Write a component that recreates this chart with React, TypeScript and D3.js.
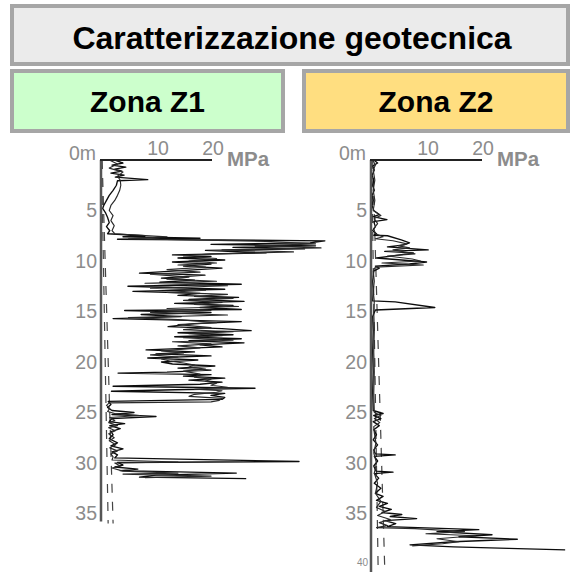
import React from 'react';
import * as d3 from 'd3';

// ---------- data ----------
const titleText = 'Caratterizzazione geotecnica';
const zoneNames = ['Zona Z1', 'Zona Z2'];
const zoneColors = ['#ccffcc', '#ffde80'];
const mpaTicks = [10, 20];
const depthTicksZ1 = [5, 10, 15, 20, 25, 30, 35];
const depthTicksZ2 = [5, 10, 15, 20, 25, 30, 35];

// [depth m, qc MPa]
const z1TraceA: [number, number][] = [
  [0, 2.5], [0.3, 4.0], [0.5, 2.0], [0.7, 4.5], [0.9, 2.5], [1.1, 3.8], [1.3, 1.8], [1.5, 4.2], [1.7, 2.6],
  [1.95, 8.5], [2.05, 3.0], [2.5, 2.8], [3.0, 2.2], [3.5, 1.5], [4.0, 1.0], [4.5, 0.5], [4.8, 0.3], [5.2, 0.8],
  [5.7, 1.2], [6.2, 1.5], [6.6, 1.0], [7.0, 1.6], [7.3, 1.2], [7.5, 8.0], [7.6, 4.0], [7.75, 18], [7.85, 3],
  [8.0, 40.7], [8.2, 38], [8.35, 20], [8.5, 39], [8.65, 24], [8.8, 37], [8.95, 19], [9.2, 30], [9.4, 13],
  [9.55, 20], [9.7, 14], [9.9, 22.5], [10.1, 13], [10.3, 20], [10.5, 15], [10.7, 22], [10.9, 16], [11.2, 7.0],
  [11.4, 18.9], [11.7, 11], [11.9, 17], [12.1, 10.7], [12.3, 25.5], [12.5, 4.9], [12.8, 22.5], [13.0, 5.8],
  [13.2, 18], [13.4, 14], [13.6, 25], [13.8, 16], [14.0, 26], [14.2, 13.4], [14.4, 24], [14.6, 18], [14.8, 25.5],
  [14.9, 4.3], [15.1, 20], [15.3, 7.3], [15.5, 14.6], [15.7, 2.2], [15.9, 18], [16.0, 25.5], [16.2, 17],
  [16.5, 12.2], [16.7, 22], [16.9, 27.3], [17.1, 14], [17.3, 24], [17.5, 13.4], [17.7, 25.5], [17.9, 16],
  [18.1, 26], [18.3, 18], [18.5, 22], [18.8, 8.2], [19.0, 17], [19.2, 10], [19.4, 20], [19.6, 8.5], [19.8, 17.6],
  [20.0, 11], [20.2, 13], [20.4, 20.7], [20.6, 14], [20.8, 20], [21.0, 12], [21.1, 3.1], [21.25, 20], [21.4, 15],
  [21.6, 22.5], [21.8, 16], [22.0, 22], [22.2, 18], [22.4, 2.2], [22.6, 28], [22.75, 13.4], [22.9, 1.9],
  [23.1, 22.5], [23.3, 20], [23.5, 22.5], [23.7, 22], [23.9, 1.3], [24.2, 1.8], [24.5, 1.2], [24.8, 2.0],
  [25.0, 6], [25.2, 2.0], [25.4, 10], [25.6, 2.0], [25.9, 1.5], [26.1, 4.3], [26.3, 1.6], [26.6, 3.5], [26.9, 1.8],
  [27.2, 2.2], [27.6, 1.5], [28.0, 3.0], [28.3, 1.8], [28.6, 4.0], [28.9, 2.0], [29.2, 3.0], [29.5, 2.5],
  [29.85, 36], [29.95, 3.0], [30.2, 4.0], [30.4, 2.5], [30.6, 6.7], [30.75, 3.5], [31.0, 24.6], [31.2, 10],
  [31.4, 7], [31.55, 26.4],
];

const z1TraceB: [number, number][] = [
  [0, 1.5], [0.4, 3.0], [0.8, 1.5], [1.2, 4.0], [1.6, 3.0], [2.0, 3.5], [2.5, 3.6], [3.0, 3.4], [3.5, 3.0],
  [4.0, 2.5], [4.5, 1.8], [5.0, 1.5], [5.5, 2.2], [6.0, 1.8], [6.5, 2.4], [7.0, 2.0], [7.3, 2.5], [7.6, 12],
  [7.8, 5], [8.05, 30], [8.3, 39], [8.5, 28], [8.7, 40], [8.9, 22], [9.1, 35], [9.3, 20], [9.5, 15], [9.75, 21],
  [10.0, 16], [10.2, 21], [10.4, 14], [10.6, 19], [10.85, 12], [11.1, 18], [11.3, 9], [11.6, 16], [11.8, 12],
  [12.0, 21], [12.2, 8], [12.45, 23], [12.7, 9], [12.9, 19], [13.1, 12], [13.3, 23], [13.5, 17], [13.7, 24],
  [13.9, 15], [14.1, 22], [14.3, 17], [14.5, 25], [14.7, 12], [14.9, 20], [15.1, 9], [15.35, 23], [15.6, 5],
  [15.8, 14], [16.1, 21], [16.3, 14], [16.6, 20], [16.8, 15], [17.0, 24], [17.2, 16], [17.4, 22], [17.6, 15],
  [17.85, 24], [18.0, 13], [18.2, 20], [18.4, 14], [18.6, 18], [18.9, 11], [19.1, 15], [19.3, 9], [19.5, 14],
  [19.7, 11], [19.9, 12.5], [20.1, 15], [20.3, 17], [20.5, 16], [20.7, 19], [20.9, 15], [21.2, 18], [21.5, 17],
  [21.7, 20], [21.9, 19], [22.1, 21], [22.3, 20], [22.5, 23], [22.7, 17], [22.85, 22], [23.0, 21], [23.2, 17],
  [23.4, 16], [23.6, 22], [23.8, 21.5], [23.95, 20], [24.05, 1.5], [24.3, 1.0], [24.6, 1.6], [24.9, 1.2],
  [25.1, 2.5], [25.3, 7], [25.5, 1.6], [25.8, 2.5], [26.0, 1.4], [26.3, 3.0], [26.5, 1.4], [26.8, 2.6],
  [27.1, 1.4], [27.5, 2.4], [27.8, 1.5], [28.2, 2.7], [28.5, 1.6], [28.8, 3.0], [29.1, 1.8], [29.4, 2.2],
  [29.7, 2.0], [29.9, 14], [30.0, 2.5], [30.3, 3.5], [30.5, 2.0], [30.8, 4.0], [31.0, 14], [31.1, 4.0],
  [31.3, 20], [31.45, 8],
];

const z2TraceA: [number, number][] = [
  [0, 0.5], [0.3, 1.2], [0.6, 0.3], [1.0, 0.6], [1.5, 0.2], [2.0, 0.5], [2.5, 0.3], [3.0, 0.6], [3.5, 0.2],
  [4.0, 0.4], [4.5, 0.2], [5.0, 0.5], [5.4, 1.5], [5.6, 0.4], [5.9, 2.9], [6.1, 0.5], [6.6, 0.8], [7.0, 0.3],
  [7.3, 1.0], [7.45, 0.5], [7.5, 3.0], [7.9, 5.5], [8.2, 7.0], [8.4, 6.0], [8.6, 3.0], [8.9, 10.4], [9.05, 2.5],
  [9.2, 7.7], [9.5, 4.0], [9.7, 1.0], [10.1, 10.1], [10.3, 7.0], [10.5, 0.8], [10.7, 1.5], [11.0, 0.5],
  [12.0, 0.3], [13.0, 0.4], [13.95, 0.3], [14.05, 4.4], [14.6, 11.6], [14.85, 0.8], [15.5, 0.3], [17, 0.4],
  [19, 0.3], [21, 0.4], [23, 0.3], [24.8, 0.4], [25.1, 2.2], [25.3, 0.5], [25.6, 1.8], [25.9, 0.4], [26.3, 1.5],
  [26.7, 0.5], [27.2, 1.0], [27.7, 0.4], [28.2, 1.2], [28.7, 0.5], [29.1, 0.8], [29.2, 4.4], [29.35, 0.6],
  [29.8, 1.2], [30.3, 0.5], [30.8, 0.9], [30.9, 4.0], [31.05, 0.6], [31.5, 1.4], [32.0, 0.6], [32.5, 1.8],
  [33.0, 0.8], [33.3, 2.2], [33.7, 1.0], [34.0, 3.0], [34.3, 1.5], [34.6, 3.7], [34.9, 2.0], [35.1, 5.6],
  [35.3, 3.5], [35.5, 8.3], [35.7, 2.5], [36.0, 4.5], [36.3, 3.0], [36.6, 19.6], [36.8, 12], [37.1, 22],
  [37.3, 16], [37.55, 26.6], [37.8, 15], [38.1, 7.1], [38.3, 15], [38.45, 25], [38.6, 35.3],
];

const z2TraceB: [number, number][] = [
  [0, 0.3], [0.5, 0.8], [1.0, 0.4], [2.0, 0.7], [3.0, 0.4], [4.0, 0.7], [5.0, 0.4], [5.5, 1.8], [5.8, 0.6],
  [6.3, 1.2], [6.8, 0.5], [7.3, 0.8], [7.6, 2.2], [7.8, 0.8], [8.0, 4.0], [8.3, 6.5], [8.5, 5.0], [8.7, 7.0],
  [8.9, 4.0], [9.3, 8.0], [9.5, 3.0], [9.8, 7.5], [10.0, 9.0], [10.2, 2.0], [10.4, 9.5], [10.6, 0.8], [11, 0.4],
  [12, 0.6], [13, 0.4], [14, 0.6], [15, 0.5], [17, 0.6], [19, 0.5], [21, 0.6], [23, 0.5], [25, 0.6], [25.3, 1.8],
  [25.6, 0.6], [26, 1.6], [26.4, 0.5], [27, 0.6], [28, 0.9], [29, 0.5], [30, 1.0], [31, 0.6], [32, 1.2],
  [33, 0.8], [33.8, 1.8], [34.4, 1.0], [34.8, 2.6], [35.2, 1.2], [35.6, 3.5], [35.9, 1.5], [36.2, 3.0],
  [36.4, 1.0], [36.5, 8], [36.8, 17], [37.0, 10], [37.2, 19], [37.5, 12], [37.8, 16], [38.0, 13], [38.2, 7.5],
];

const z1Dashed: [number, number][][] = [
  [[0, 0.1], [36, 1.3]],
  [[0, 0.2], [36, 2.2]],
];
const z2Dashed: [number, number][][] = [
  [[0, 0.1], [40.5, 1.3]],
  [[0, 0.3], [40.5, 2.5]],
];

// ---------- layout ----------
const W = 573;
const H = 577;
const FONT = "'Liberation Sans', Arial, Helvetica, sans-serif";
const LABEL_GRAY = '#8c8c8c';

type PanelProps = {
  axisX: number;
  traces: [number, number][][];
  dashed: [number, number][][];
  ticks: number[];
  axisEndDepth: number;
  smallEndTick?: number;
};

function Panel({ axisX, traces, dashed, ticks, axisEndDepth, smallEndTick }: PanelProps) {
  const x = d3.scaleLinear().domain([0, 20]).range([axisX, axisX + 110]);
  const y = d3.scaleLinear().domain([0, 10]).range([160, 261]);
  const line = d3
    .line<[number, number]>()
    .x((d) => x(d[1]))
    .y((d) => y(d[0]));
  return (
    <g>
      {dashed.map((d, i) => (
        <path key={'d' + i} d={line(d) || ''} fill="none" stroke="#444" strokeWidth={1.2} strokeDasharray="9,9" />
      ))}
      {traces.map((t, i) => (
        <path
          key={'t' + i}
          d={line(t) || ''}
          fill="none"
          stroke={i === 0 ? '#0d0d0d' : '#2a2a2a'}
          strokeWidth={i === 0 ? 1.35 : 1.15}
          strokeLinejoin="round"
        />
      ))}
      {/* axes */}
      <line x1={x(0)} x2={x(0)} y1={y(0)} y2={y(axisEndDepth)} stroke="#555" strokeWidth={2.5} />
      <line x1={x(0) - 1} x2={x(20) + 1} y1={y(0)} y2={y(0)} stroke="#222" strokeWidth={2} />
      {/* x tick labels */}
      <text x={x(0) - 5} y={y(0)} textAnchor="end" fontSize={19.5} fill={LABEL_GRAY} fontFamily={FONT}>
        0m
      </text>
      {mpaTicks.map((t) => (
        <text key={t} x={x(t) + 2} y={y(0) - 5} textAnchor="middle" fontSize={19.5} fill={LABEL_GRAY} fontFamily={FONT}>
          {t}
        </text>
      ))}
      <text x={x(20) + 16} y={y(0) + 6} fontSize={20.5} fontWeight="bold" fill={LABEL_GRAY} fontFamily={FONT}>
        MPa
      </text>
      {ticks.map((t) => (
        <text key={t} x={x(0) - 4} y={y(t)} dy="0.35em" textAnchor="end" fontSize={19.5} fill={LABEL_GRAY} fontFamily={FONT}>
          {t}
        </text>
      ))}
      {smallEndTick !== undefined && (
        <text x={x(0) - 3} y={y(smallEndTick) + 2} textAnchor="end" fontSize={10} fill={LABEL_GRAY} fontFamily={FONT}>
          {smallEndTick}
        </text>
      )}
    </g>
  );
}

export default function App() {
  const zoneBoxes = [
    { x: 12, w: 271 },
    { x: 304, w: 264 },
  ];
  return (
    <svg
      width={W}
      height={H}
      viewBox={`0 0 ${W} ${H}`}
      style={{ position: 'absolute', left: 0, top: 0, background: '#fff', display: 'block' }}
    >
      <rect x={0} y={0} width={W} height={H} fill="#fff" />
      <rect x={12} y={6} width={556} height={58} fill="#ebebeb" stroke="#a6a6a6" strokeWidth={4} />
      <text x={292} y={49} textAnchor="middle" fontSize={32} fontWeight="bold" fontFamily={FONT} fill="#000">
        {titleText}
      </text>
      {zoneBoxes.map((b, i) => (
        <g key={i}>
          <rect x={b.x} y={71} width={b.w} height={60} fill={zoneColors[i]} stroke="#a6a6a6" strokeWidth={4} />
          <text x={b.x + b.w / 2} y={112} textAnchor="middle" fontSize={30} fontWeight="bold" fontFamily={FONT} fill="#000">
            {zoneNames[i]}
          </text>
        </g>
      ))}
      <Panel axisX={101} traces={[z1TraceA, z1TraceB]} dashed={z1Dashed} ticks={depthTicksZ1} axisEndDepth={35.8} />
      <Panel axisX={371} traces={[z2TraceA, z2TraceB]} dashed={z2Dashed} ticks={depthTicksZ2} axisEndDepth={40.8} smallEndTick={40} />
    </svg>
  );
}
